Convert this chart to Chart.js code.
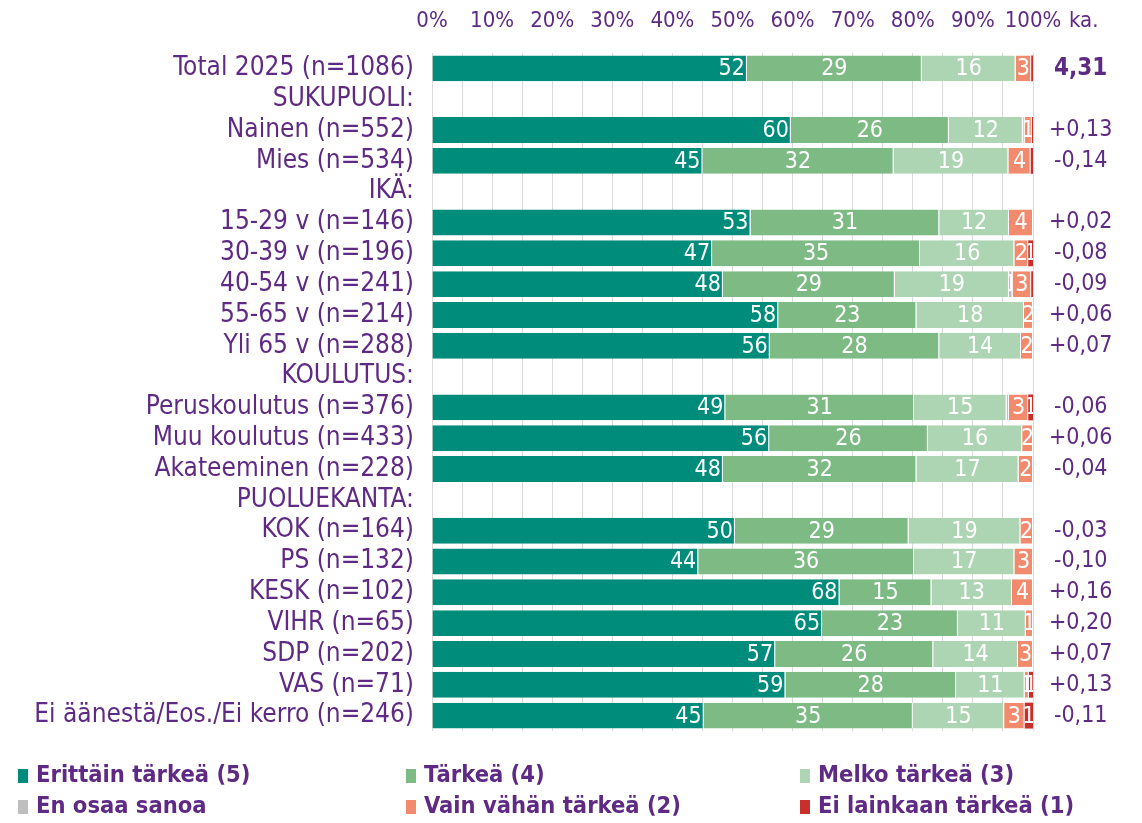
<!DOCTYPE html>
<html>
<head>
<meta charset="utf-8">
<script src="https://cdn.jsdelivr.net/npm/chart.js@4/dist/chart.umd.min.js"></script>
<style>
  body { margin: 0; background: #fff; }
  canvas { display: block; }
</style>
</head>
<body>
<canvas id="chart" width="1142" height="823"></canvas>
<script>
const CATEGORIES = [
  'Total 2025 (n=1086)',
  'SUKUPUOLI:',
  'Nainen (n=552)',
  'Mies (n=534)',
  'IKÄ:',
  '15-29 v (n=146)',
  '30-39 v (n=196)',
  '40-54 v (n=241)',
  '55-65 v (n=214)',
  'Yli 65 v (n=288)',
  'KOULUTUS:',
  'Peruskoulutus (n=376)',
  'Muu koulutus (n=433)',
  'Akateeminen (n=228)',
  'PUOLUEKANTA:',
  'KOK (n=164)',
  'PS (n=132)',
  'KESK (n=102)',
  'VIHR (n=65)',
  'SDP (n=202)',
  'VAS (n=71)',
  'Ei äänestä/Eos./Ei kerro (n=246)',
];

const ERITTAIN = [52.4, null, 59.7, 45.0, null, 53.0, 46.6, 48.4, 57.6, 56.2, null, 48.8, 56.1, 48.4, null, 50.4, 44.3, 67.8, 64.9, 57.1, 58.8, 45.2];
const TARKEA = [29.1, null, 26.3, 31.8, null, 31.4, 34.6, 28.6, 23.0, 28.2, null, 31.4, 26.4, 32.2, null, 28.9, 35.9, 15.3, 22.6, 26.3, 28.4, 34.8];
const MELKO = [15.6, null, 12.3, 19.1, null, 11.6, 15.7, 19.0, 17.9, 13.6, null, 15.4, 15.7, 17.0, null, 18.6, 16.7, 13.4, 11.3, 14.1, 11.4, 15.2];
const EOS = [0, null, 0.3, 0, null, 0, 0, 0.6, 0, 0, null, 0.4, 0, 0, null, 0, 0, 0, 0, 0, 0, 0];
const VAIN = [2.6, null, 1.2, 3.7, null, 4.0, 2.3, 3.1, 1.5, 2.0, null, 3.2, 1.8, 2.4, null, 2.1, 3.1, 3.5, 1.2, 2.5, 0.7, 3.4];
const EI = [0.3, null, 0.2, 0.4, null, 0, 0.8, 0.3, 0, 0, null, 0.8, 0, 0, null, 0, 0, 0, 0, 0, 0.7, 1.4];

const KA = ['4,31', '', '+0,13', '-0,14', '', '+0,02', '-0,08', '-0,09', '+0,06', '+0,07', '',
  '-0,06', '+0,06', '-0,04', '', '-0,03', '-0,10', '+0,16', '+0,20', '+0,07', '+0,13', '-0,11'];

const X_TICKS = [0, 10, 20, 30, 40, 50, 60, 70, 80, 90, 100];

const PURPLE = '#5f2a84';
const FONT = '"DejaVu Sans Condensed", "DejaVu Sans", sans-serif';

const series = [
  { label: 'Erittäin tärkeä (5)', data: ERITTAIN, color: '#008c7a' },
  { label: 'Tärkeä (4)', data: TARKEA, color: '#7dba84' },
  { label: 'Melko tärkeä (3)', data: MELKO, color: '#add5b3' },
  { label: 'En osaa sanoa', data: EOS, color: '#bfbfbf' },
  { label: 'Vain vähän tärkeä (2)', data: VAIN, color: '#f28b6e' },
  { label: 'Ei lainkaan tärkeä (1)', data: EI, color: '#c9302c' },
];

// segment numbers, white, clipped to their own segment
const barLabels = {
  id: 'barLabels',
  afterDatasetsDraw(chart) {
    const ctx = chart.ctx;
    ctx.save();
    ctx.font = '23px ' + FONT;
    ctx.fillStyle = '#fff';
    ctx.textBaseline = 'middle';
    chart.data.datasets.forEach((ds, di) => {
      chart.getDatasetMeta(di).data.forEach((bar, i) => {
        const v = ds.data[i];
        if (v == null || Math.round(v) < 1) return;
        const left = Math.min(bar.base, bar.x);
        const right = Math.max(bar.base, bar.x);
        ctx.save();
        ctx.beginPath();
        ctx.rect(left, bar.y - bar.height / 2, right - left, bar.height);
        ctx.clip();
        if (di === 0) {
          ctx.textAlign = 'right';
          ctx.fillText(Math.round(v), right - 2, bar.y + 1);
        } else {
          ctx.textAlign = 'center';
          ctx.fillText(Math.round(v), (left + right) / 2, bar.y + 1);
        }
        ctx.restore();
      });
    });
    ctx.restore();
  },
};

// "ka." header and legend in three columns
const extras = {
  id: 'extras',
  afterDraw(chart) {
    const ctx = chart.ctx;
    ctx.save();
    ctx.fillStyle = PURPLE;
    ctx.font = '22px ' + FONT;
    ctx.textBaseline = 'middle';
    ctx.textAlign = 'left';
    ctx.fillText('ka.', 1069, 21);

    const cols = [18, 406, 800];
    const rows = [776, 807];
    ctx.font = 'bold 23.5px ' + FONT;
    chart.data.datasets.forEach((ds, i) => {
      const x = cols[i % 3];
      const y = rows[Math.floor(i / 3)];
      ctx.fillStyle = ds.backgroundColor;
      ctx.fillRect(x, y - 7, 10, 14);
      ctx.fillStyle = PURPLE;
      ctx.fillText(ds.label, x + 18, y);
    });
    ctx.restore();
  },
};

new Chart(document.getElementById('chart'), {
  type: 'bar',
  data: {
    labels: CATEGORIES,
    datasets: series.map((s, i) => ({
      label: s.label,
      data: s.data,
      backgroundColor: s.color,
      borderColor: '#fff',
      borderWidth: i === series.length - 1 ? 0 : { top: 0, bottom: 0, left: 0, right: 1 },
      borderSkipped: false,
      categoryPercentage: 1,
      barPercentage: 0.84,
    })),
  },
  options: {
    indexAxis: 'y',
    responsive: false,
    animation: false,
    layout: { padding: { top: 0, bottom: 92, left: 0, right: 0 } },
    plugins: {
      legend: { display: false },
      tooltip: { enabled: false },
    },
    scales: {
      x: {
        position: 'top',
        stacked: true,
        min: 0,
        max: 100,
        border: { display: false },
        grid: { color: '#d9d9d9', lineWidth: 1, drawTicks: false },
        ticks: {
          stepSize: 5,
          autoSkip: false,
          maxRotation: 0,
          minRotation: 0,
          padding: 19,
          color: PURPLE,
          font: { family: FONT, size: 22 },
          callback: (v) => (X_TICKS.includes(v) ? v + '%' : ''),
        },
        afterFit: (scale) => { scale.height = 53; },
      },
      y: {
        stacked: true,
        border: { display: false },
        grid: { display: false, drawTicks: false },
        ticks: {
          autoSkip: false,
          padding: 18,
          color: PURPLE,
          font: { family: FONT, size: 26 },
        },
        afterFit: (scale) => { scale.width = 432; },
      },
      y2: {
        type: 'category',
        position: 'right',
        labels: KA,
        offset: true,
        border: { display: false },
        grid: { display: false, drawTicks: false },
        ticks: {
          autoSkip: false,
          padding: 16,
          crossAlign: 'center',
          color: PURPLE,
          font: (c) => (c.index === 0
            ? { family: FONT, size: 24, weight: 'bold' }
            : { family: FONT, size: 23 }),
        },
        afterFit: (scale) => { scale.width = 109; },
      },
    },
  },
  plugins: [barLabels, extras],
});
</script>
</body>
</html>
